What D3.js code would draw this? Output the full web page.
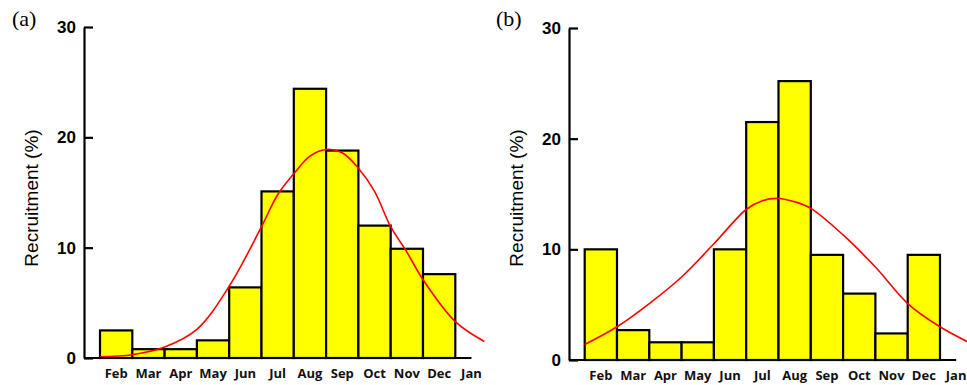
<!DOCTYPE html>
<html>
<head>
<meta charset="utf-8">
<script src="https://cdn.jsdelivr.net/npm/d3@7"></script>
<style>
  html, body { margin: 0; padding: 0; background: #fff; }
  svg { display: block; }
</style>
</head>
<body>
<svg id="chart" width="967" height="385"></svg>
<script>
// Months on the x axis (Jan closes the cycle and has no bar)
const months = ["Feb", "Mar", "Apr", "May", "Jun", "Jul", "Aug", "Sep", "Oct", "Nov", "Dec", "Jan"];
const yTicks = [0, 10, 20, 30];

// Monthly recruitment (%) – panel (a)
const recruitA = [2.5, 0.8, 0.8, 1.6, 6.4, 15.1, 24.4, 18.8, 12.0, 9.9, 7.6];
// Monthly recruitment (%) – panel (b)
const recruitB = [10.0, 2.7, 1.6, 1.6, 10.0, 21.5, 25.2, 9.5, 6.0, 2.4, 9.5];

// Fitted curves: position in month units from the start of Feb, value (%)
const fitPosA = [0, 1, 2, 3, 4, 5, 5.5, 6, 6.5, 7, 7.5, 8, 8.5, 9, 9.5, 10, 11, 11.9];
const fitValA = [0.1, 0.3, 1.0, 2.6, 6.5, 11.9, 14.8, 16.7, 18.3, 18.9, 18.6, 17.2, 15.1, 11.9, 9.6, 7.1, 3.3, 1.5];
const fitPosB = [0, 1, 2, 3, 4, 5, 5.5, 6, 6.5, 7, 8, 9, 10, 11, 11.85];
const fitValB = [1.4, 3.0, 5.1, 7.5, 10.5, 13.6, 14.4, 14.6, 14.3, 13.7, 11.3, 8.4, 5.1, 3.0, 1.65];

const svg = d3.select("#chart");

function panel(opt) {
  const g = svg.append("g");
  const step = 32.3;
  const x = d3.scaleBand().domain(months).range([opt.barLeft, opt.barLeft + step * months.length]).paddingInner(0).paddingOuter(0);
  const u = d3.scaleLinear().domain([0, months.length]).range(x.range());
  const y = d3.scaleLinear().domain([0, 30]).range([opt.y0, opt.y30]);

  // bars
  g.append("g").selectAll("rect")
    .data(opt.values)
    .join("rect")
    .attr("x", (d, i) => x(months[i]))
    .attr("y", d => y(d))
    .attr("width", x.bandwidth())
    .attr("height", d => y(0) - y(d))
    .attr("fill", "#ffff00")
    .attr("stroke", "#000")
    .attr("stroke-width", 2.2);

  // fitted curve
  const pts = opt.fitPos.map((p, i) => [p, opt.fitVal[i]]);
  g.append("path")
    .datum(pts)
    .attr("d", d3.line().x(d => u(d[0])).y(d => y(d[1])).curve(d3.curveCatmullRom))
    .attr("fill", "none")
    .attr("stroke", "#ff0000")
    .attr("stroke-width", 1.6);

  // x axis baseline, from the y axis to the middle of Jan
  g.append("line")
    .attr("x1", opt.axisX).attr("x2", x("Jan") + x.bandwidth() / 2)
    .attr("y1", y(0)).attr("y2", y(0))
    .attr("stroke", "#000").attr("stroke-width", 2.2);

  // x tick labels
  const xa = g.append("g")
    .attr("transform", `translate(0,${y(0)})`)
    .call(d3.axisBottom(x).tickSize(0).tickPadding(11));
  xa.select(".domain").remove();
  xa.selectAll("text")
    .attr("font-family", "'Open Sans', sans-serif")
    .attr("font-weight", "bold")
    .attr("font-size", 13)
    .attr("fill", "#111");

  // y axis with inward ticks
  const ya = g.append("g")
    .attr("transform", `translate(${opt.axisX},0)`)
    .call(d3.axisLeft(y).tickValues(yTicks).tickSizeInner(-9).tickSizeOuter(0).tickPadding(8));
  ya.select(".domain").attr("stroke-width", 2.2);
  ya.selectAll(".tick line").attr("stroke-width", 2.2);
  ya.selectAll("text")
    .attr("font-family", "'Liberation Sans', Arial, sans-serif")
    .attr("font-weight", "bold")
    .attr("font-size", 17)
    .attr("fill", "#000");

  // y axis title
  g.append("text")
    .attr("transform", `translate(${opt.axisX - 46},198) rotate(-90)`)
    .attr("text-anchor", "middle")
    .attr("font-family", "'Liberation Sans', Arial, sans-serif")
    .attr("font-size", 19)
    .attr("fill", "#000")
    .text("Recruitment (%)");

  // panel letter
  g.append("text")
    .attr("x", opt.letterX).attr("y", 26)
    .attr("font-family", "'Liberation Serif', 'Times New Roman', serif")
    .attr("font-size", 22)
    .attr("fill", "#000")
    .text(opt.letter);
}

panel({ letter: "(a)", letterX: 12, axisX: 84, barLeft: 100, y0: 358, y30: 27,
        values: recruitA, fitPos: fitPosA, fitVal: fitValA });
panel({ letter: "(b)", letterX: 496, axisX: 569, barLeft: 584.7, y0: 360, y30: 28,
        values: recruitB, fitPos: fitPosB, fitVal: fitValB });
</script>
</body>
</html>
